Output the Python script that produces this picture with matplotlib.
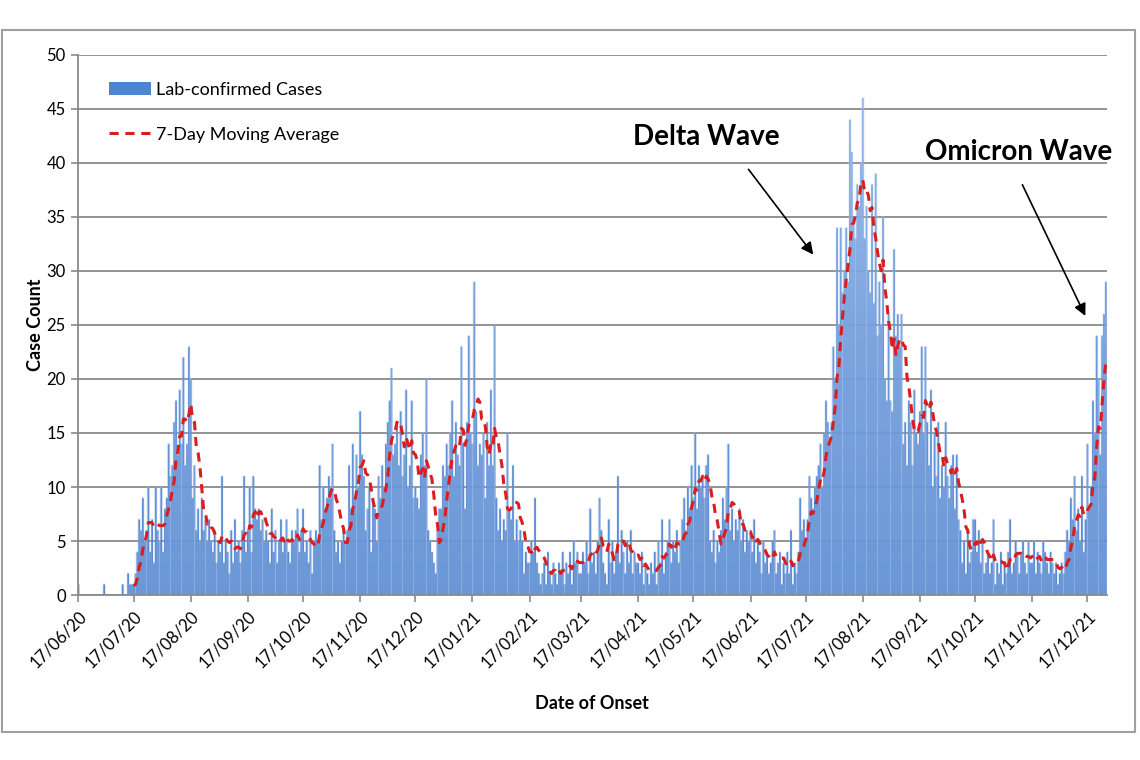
import numpy as np
import pandas as pd
import matplotlib
matplotlib.use('Agg')
import matplotlib.pyplot as plt
import matplotlib.dates as mdates
from matplotlib.patches import Rectangle, Patch
from matplotlib.path import Path
from matplotlib.colors import LinearSegmentedColormap

# casos diarios, un bloque por mes (del 17 al 16 del mes siguiente)
jun20 = [1, 0, 0, 0, 0, 0, 0, 0, 0, 0, 0, 0, 0, 0, 1, 0, 0, 0, 0, 0, 0, 0, 0, 0, 1, 0, 0, 2, 1, 1]
jul20 = [1, 2, 4, 7, 6, 9, 5, 6, 10, 4, 7, 3, 10, 6, 5, 10, 4, 8, 9, 14, 11, 12, 16, 18, 13, 19, 14, 22, 12, 14, 23]
aug20 = [20, 9, 12, 6, 8, 5, 9, 6, 7, 5, 7, 5, 4, 6, 3, 5, 4, 11, 3, 5, 4, 2, 6, 3, 7, 4, 5, 3, 6, 11, 4]
sep20 = [6, 10, 4, 11, 8, 7, 8, 6, 7, 5, 6, 5, 3, 8, 4, 6, 3, 5, 7, 4, 5, 7, 4, 3, 6, 5, 6, 8, 4, 6]
oct20 = [8, 4, 5, 3, 6, 2, 5, 6, 5, 12, 7, 10, 8, 9, 11, 10, 14, 6, 4, 5, 3, 5, 6, 5, 6, 12, 8, 14, 9, 13, 10]
nov20 = [17, 13, 11, 6, 8, 10, 4, 9, 8, 5, 11, 9, 12, 10, 14, 16, 18, 21, 13, 14, 16, 12, 17, 11, 13, 19, 10, 12, 18, 9]
dec20 = [10, 9, 8, 13, 15, 12, 20, 6, 5, 4, 3, 2, 6, 8, 8, 12, 11, 14, 12, 15, 18, 11, 16, 13, 12, 23, 14, 8, 16, 24, 15]
jan21 = [14, 29, 17, 12, 14, 13, 15, 9, 16, 12, 19, 12, 25, 9, 6, 8, 5, 7, 6, 15, 8, 7, 12, 5, 7, 5, 6, 5, 2, 4, 3]
feb21 = [3, 5, 4, 9, 3, 2, 1, 2, 3, 1, 4, 2, 1, 3, 2, 1, 3, 2, 4, 1, 3, 2, 4, 1, 5, 3, 4, 2]
mar21 = [2, 4, 3, 5, 2, 8, 3, 4, 2, 5, 9, 6, 3, 2, 1, 7, 3, 5, 2, 4, 11, 3, 6, 4, 2, 5, 3, 6, 2, 4, 3]
apr21 = [3, 2, 4, 1, 3, 2, 1, 3, 2, 4, 1, 5, 3, 7, 2, 4, 5, 7, 3, 5, 4, 6, 3, 5, 7, 9, 6, 10, 8, 12]
may21 = [9, 15, 8, 12, 10, 11, 9, 12, 13, 5, 4, 6, 3, 5, 4, 6, 9, 7, 10, 14, 6, 8, 5, 7, 6, 8, 5, 7, 4, 6, 5]
jun21 = [6, 4, 7, 3, 5, 4, 2, 5, 3, 4, 2, 3, 5, 6, 2, 3, 4, 1, 3, 2, 4, 2, 6, 1, 3, 2, 4, 9, 6, 7]
jul21 = [5, 7, 11, 9, 8, 10, 11, 12, 14, 10, 15, 18, 16, 14, 16, 23, 20, 34, 25, 34, 28, 30, 34, 29, 44, 41, 35, 33, 38, 36, 40]
aug21 = [46, 33, 36, 30, 28, 38, 27, 39, 24, 29, 25, 35, 20, 18, 26, 18, 17, 32, 24, 26, 23, 26, 14, 16, 12, 18, 16, 12, 19, 15, 14]
sep21 = [17, 23, 15, 23, 16, 12, 19, 10, 15, 11, 16, 9, 12, 10, 16, 11, 9, 12, 13, 8, 13, 7, 6, 3, 5, 2, 6, 3, 4, 7]
oct21 = [7, 4, 6, 3, 5, 2, 3, 4, 2, 3, 7, 1, 3, 2, 4, 1, 3, 2, 4, 7, 2, 3, 5, 4, 2, 4, 5, 3, 2, 5, 3]
nov21 = [3, 5, 2, 4, 3, 2, 5, 4, 3, 2, 4, 3, 2, 3, 1, 2, 3, 2, 4, 6, 5, 9, 7, 11, 6, 8, 5, 11, 4, 7]
dec21 = [14, 8, 10, 18, 15, 24, 20, 13, 24, 26, 29]

inicio = '2020-06-17'
inicio_media = '2020-07-17'


def main():
    casos = (jun20 + jul20 + aug20 + sep20 + oct20 + nov20 + dec20 + jan21 + feb21
             + mar21 + apr21 + may21 + jun21 + jul21 + aug21 + sep21 + oct21 + nov21 + dec21)
    fechas = pd.date_range(inicio, periods=len(casos), freq='D')
    df = pd.DataFrame({'casos': casos}, index=fechas)
    df['media'] = df.casos.rolling(7).mean()
    grafico(df)


def barras_degradado(ax, df):
    # barras invisibles que sirven de máscara para un degradado vertical
    barras = ax.bar(df.index, df.casos, width=1.0, color='none', edgecolor='none', zorder=2)
    camino = Path.make_compound_path(*[b.get_path().transformed(b.get_patch_transform())
                                       for b in barras])
    cmap = LinearSegmentedColormap.from_list('azul', ['#2d6bc5', '#4e85d3', '#8cb3ea'])
    x0, x1 = ax.get_xlim()
    grad = np.linspace(0, 1, 256).reshape(-1, 1)
    im = ax.imshow(grad, cmap=cmap, origin='lower', aspect='auto', alpha=0.92,
                   extent=[x0, x1, 0, 50], zorder=2)
    im.set_clip_path(camino, ax.transData)
    # finas líneas claras entre barras
    ax.bar(df.index, df.casos, width=1.0, color='none', edgecolor='#b9cff0', lw=0.3, zorder=2)


def grafico(df):
    plt.rcParams['font.family'] = ['Lato', 'DejaVu Sans']
    fig = plt.figure(figsize=(11.4, 7.6), dpi=100)
    ax = fig.add_axes([0.068, 0.217, 0.903, 0.711])

    # marco exterior
    fig.patches.append(Rectangle((0.002, 0.037), 0.994, 0.924, transform=fig.transFigure,
                                 fill=False, edgecolor='#a0a0a0', lw=1.5))

    ax.set_xlim(df.index[0] - pd.Timedelta(hours=12), df.index[-1] + pd.Timedelta(hours=14))
    ax.set_ylim(0, 50)
    barras_degradado(ax, df)

    media = df.media[df.index >= inicio_media]
    linea, = ax.plot(media.index, media.values, color='#d81e1e', lw=2.2, ls=(0, (3, 2.2)), zorder=3)

    ax.set_yticks(np.arange(0, 51, 5))
    ax.xaxis.set_major_locator(mdates.MonthLocator(bymonthday=17))
    ax.xaxis.set_major_formatter(mdates.DateFormatter('%d/%m/%y'))
    plt.setp(ax.get_xticklabels(), rotation=45, ha='right', rotation_mode='anchor')

    ax.yaxis.grid(True, color='#8a8a8a', lw=1.3, zorder=0)
    ax.set_axisbelow(True)
    for lado in ['top', 'right']:
        ax.spines[lado].set_visible(False)
    for lado in ['left', 'bottom']:
        ax.spines[lado].set_color('#8a8a8a')
        ax.spines[lado].set_linewidth(1.3)
    ax.tick_params(axis='both', colors='#8a8a8a', labelcolor='black', labelsize=12, length=5, width=1.2)
    ax.tick_params(axis='x', pad=4)

    ax.set_ylabel('Case Count', fontsize=13, fontweight='bold', labelpad=2)
    ax.set_xlabel('Date of Onset', fontsize=13, fontweight='bold', labelpad=18)

    parche = Patch(facecolor='#4e85d3', edgecolor='none')
    ax.legend([parche, linea], ['Lab-confirmed Cases', '7-Day Moving Average'],
              loc='upper left', bbox_to_anchor=(0.015, 0.98), frameon=False, fontsize=13,
              labelspacing=1.6, handlelength=2.3, handletextpad=0.3)

    # anotaciones de las olas
    d0 = df.index[0]
    dia = lambda n: d0 + pd.Timedelta(days=n)
    ax.text(dia(341), 42.4, 'Delta Wave', fontsize=20, fontweight='bold', ha='center', va='center')
    ax.annotate('', xy=(dia(400), 31.3), xytext=(dia(363), 39.6),
                arrowprops=dict(arrowstyle='-|>', color='black', lw=1.2, mutation_scale=18))
    ax.text(dia(510.5), 41.0, 'Omicron Wave', fontsize=20, fontweight='bold', ha='center', va='center')
    ax.annotate('', xy=(dia(547.5), 25.6), xytext=(dia(512), 38.2),
                arrowprops=dict(arrowstyle='-|>', color='black', lw=1.2, mutation_scale=18))

    fig.savefig('out.png', dpi=100)


if __name__ == "__main__":
    main()
